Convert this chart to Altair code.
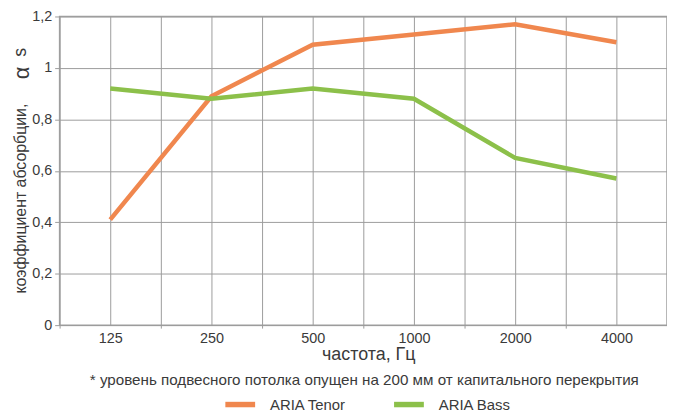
import altair as alt
import pandas as pd

# ---- data ----
freqs = ["125", "250", "500", "1000", "2000", "4000"]
tenor = [0.41, 0.89, 1.09, 1.13, 1.17, 1.10]
bass = [0.92, 0.88, 0.92, 0.88, 0.65, 0.57]
series_names = ["ARIA Tenor", "ARIA Bass"]
series_colors = ["#F0874E", "#8CC04A"]
y_ticks = [0, 0.2, 0.4, 0.6, 0.8, 1.0, 1.2]

x_title = "частота, Гц"
y_title = "коэффициент абсорбции,"
alpha_text = ["α"]
sub_text = ["s"]
footnote_text = ["* уровень подвесного потолка опущен на 200 мм от капитального перекрытия"]

rows = []
for i, f in enumerate(freqs):
    rows.append({"idx": i, "freq": f, "series": series_names[0], "value": tenor[i]})
for i, f in enumerate(freqs):
    rows.append({"idx": i, "freq": f, "series": series_names[1], "value": bass[i]})
df = pd.DataFrame(rows)

W, H = 612, 311
LEFT, TOP = 60, 15          # page position of the plot area
FONT = "Liberation Sans"
TXT = "#3a3a3a"
GRID = "#9c9c9c"

# grid positions: category centres and category boundaries
x_values = [i * 0.5 - 0.5 for i in range(2 * len(freqs) + 1)]
x_label_expr = ("datum.value % 1 === 0 ? [" + ",".join("'%s'" % f for f in freqs)
                + "][datum.value] : ''")
y_label_expr = "replace(format(datum.value, '.1~f'), '.', ',')"

x_enc = alt.X(
    "idx:Q",
    scale=alt.Scale(domain=[-0.5, len(freqs) - 0.5], nice=False, zero=False),
    axis=alt.Axis(
        values=x_values,
        labelExpr=x_label_expr,
        grid=False,
        domain=False,
        tickSize=3,
        tickColor={"condition": {"test": "datum.value % 1 !== 0", "value": GRID},
                   "value": "transparent"},
        labelPadding=3,
        labelFontSize=14.5,
        title=x_title,
        titleFontSize=18,
        titleFontWeight="normal",
        titleX=371 - LEFT,
        titleY=30,
        titleAlign="center",
        titleBaseline="middle",
    ),
)

vgrid = alt.Chart(pd.DataFrame({"idx": x_values})).mark_rule(
    color=GRID, strokeWidth=1, xOffset=0.5
).encode(x=x_enc)

lines = alt.Chart(df).mark_line(strokeWidth=4.5, strokeJoin="miter").encode(
    x=x_enc,
    y=alt.Y(
        "value:Q",
        scale=alt.Scale(domain=[0, 1.2], nice=False),
        axis=alt.Axis(
            values=y_ticks,
            labelExpr=y_label_expr,
            grid=True,
            gridOpacity=1,
            gridColor=GRID,
            domain=False,
            tickSize=5,
            tickColor=GRID,
            labelPadding=3,
            labelFontSize=14.5,
            title=y_title,
            titleFontSize=16,
            titleFontWeight="normal",
            titleAngle=270,
            titleX=21 - LEFT,
            titleY=198 - TOP,
            titleBaseline="middle",
            titleAlign="center",
        ),
    ),
    color=alt.Color(
        "series:N",
        scale=alt.Scale(domain=series_names, range=series_colors),
        legend=alt.Legend(
            orient="none",
            legendX=224 - LEFT,
            legendY=388 - TOP,
            direction="horizontal",
            symbolType="stroke",
            symbolSize=900,
            symbolStrokeWidth=5.5,
            title=None,
            labelFontSize=15,
            labelFont=FONT,
            labelColor=TXT,
            labelOffset=12,
            columnPadding=37,
        ),
    ),
)

alpha = alt.Chart(pd.DataFrame({"t": alpha_text})).mark_text(
    angle=270, fontSize=22, font=FONT, color=TXT, baseline="middle", align="center"
).encode(x=alt.value(22 - LEFT), y=alt.value(72 - TOP), text="t:N")

sub = alt.Chart(pd.DataFrame({"t": sub_text})).mark_text(
    angle=270, fontSize=18, font=FONT, color=TXT, baseline="middle", align="center"
).encode(x=alt.value(21 - LEFT), y=alt.value(51 - TOP), text="t:N")

footnote = alt.Chart(pd.DataFrame({"t": footnote_text})).mark_text(
    fontSize=15.3, font=FONT, color=TXT, baseline="middle", align="center"
).encode(x=alt.value(367 - LEFT), y=alt.value(381 - TOP), text="t:N")

chart = alt.layer(vgrid, lines, alpha, sub, footnote).properties(
    width=W,
    height=H,
    autosize="none",
    padding={"left": LEFT - 8, "top": TOP - 8, "right": 0, "bottom": 90},
).configure_view(
    stroke="#a0a0a0", strokeWidth=1.5
).configure_axis(
    labelFont=FONT,
    titleFont=FONT,
    labelColor=TXT,
    titleColor=TXT,
)

chart.save("out.html", embed_options={"renderer": "svg", "actions": False})
